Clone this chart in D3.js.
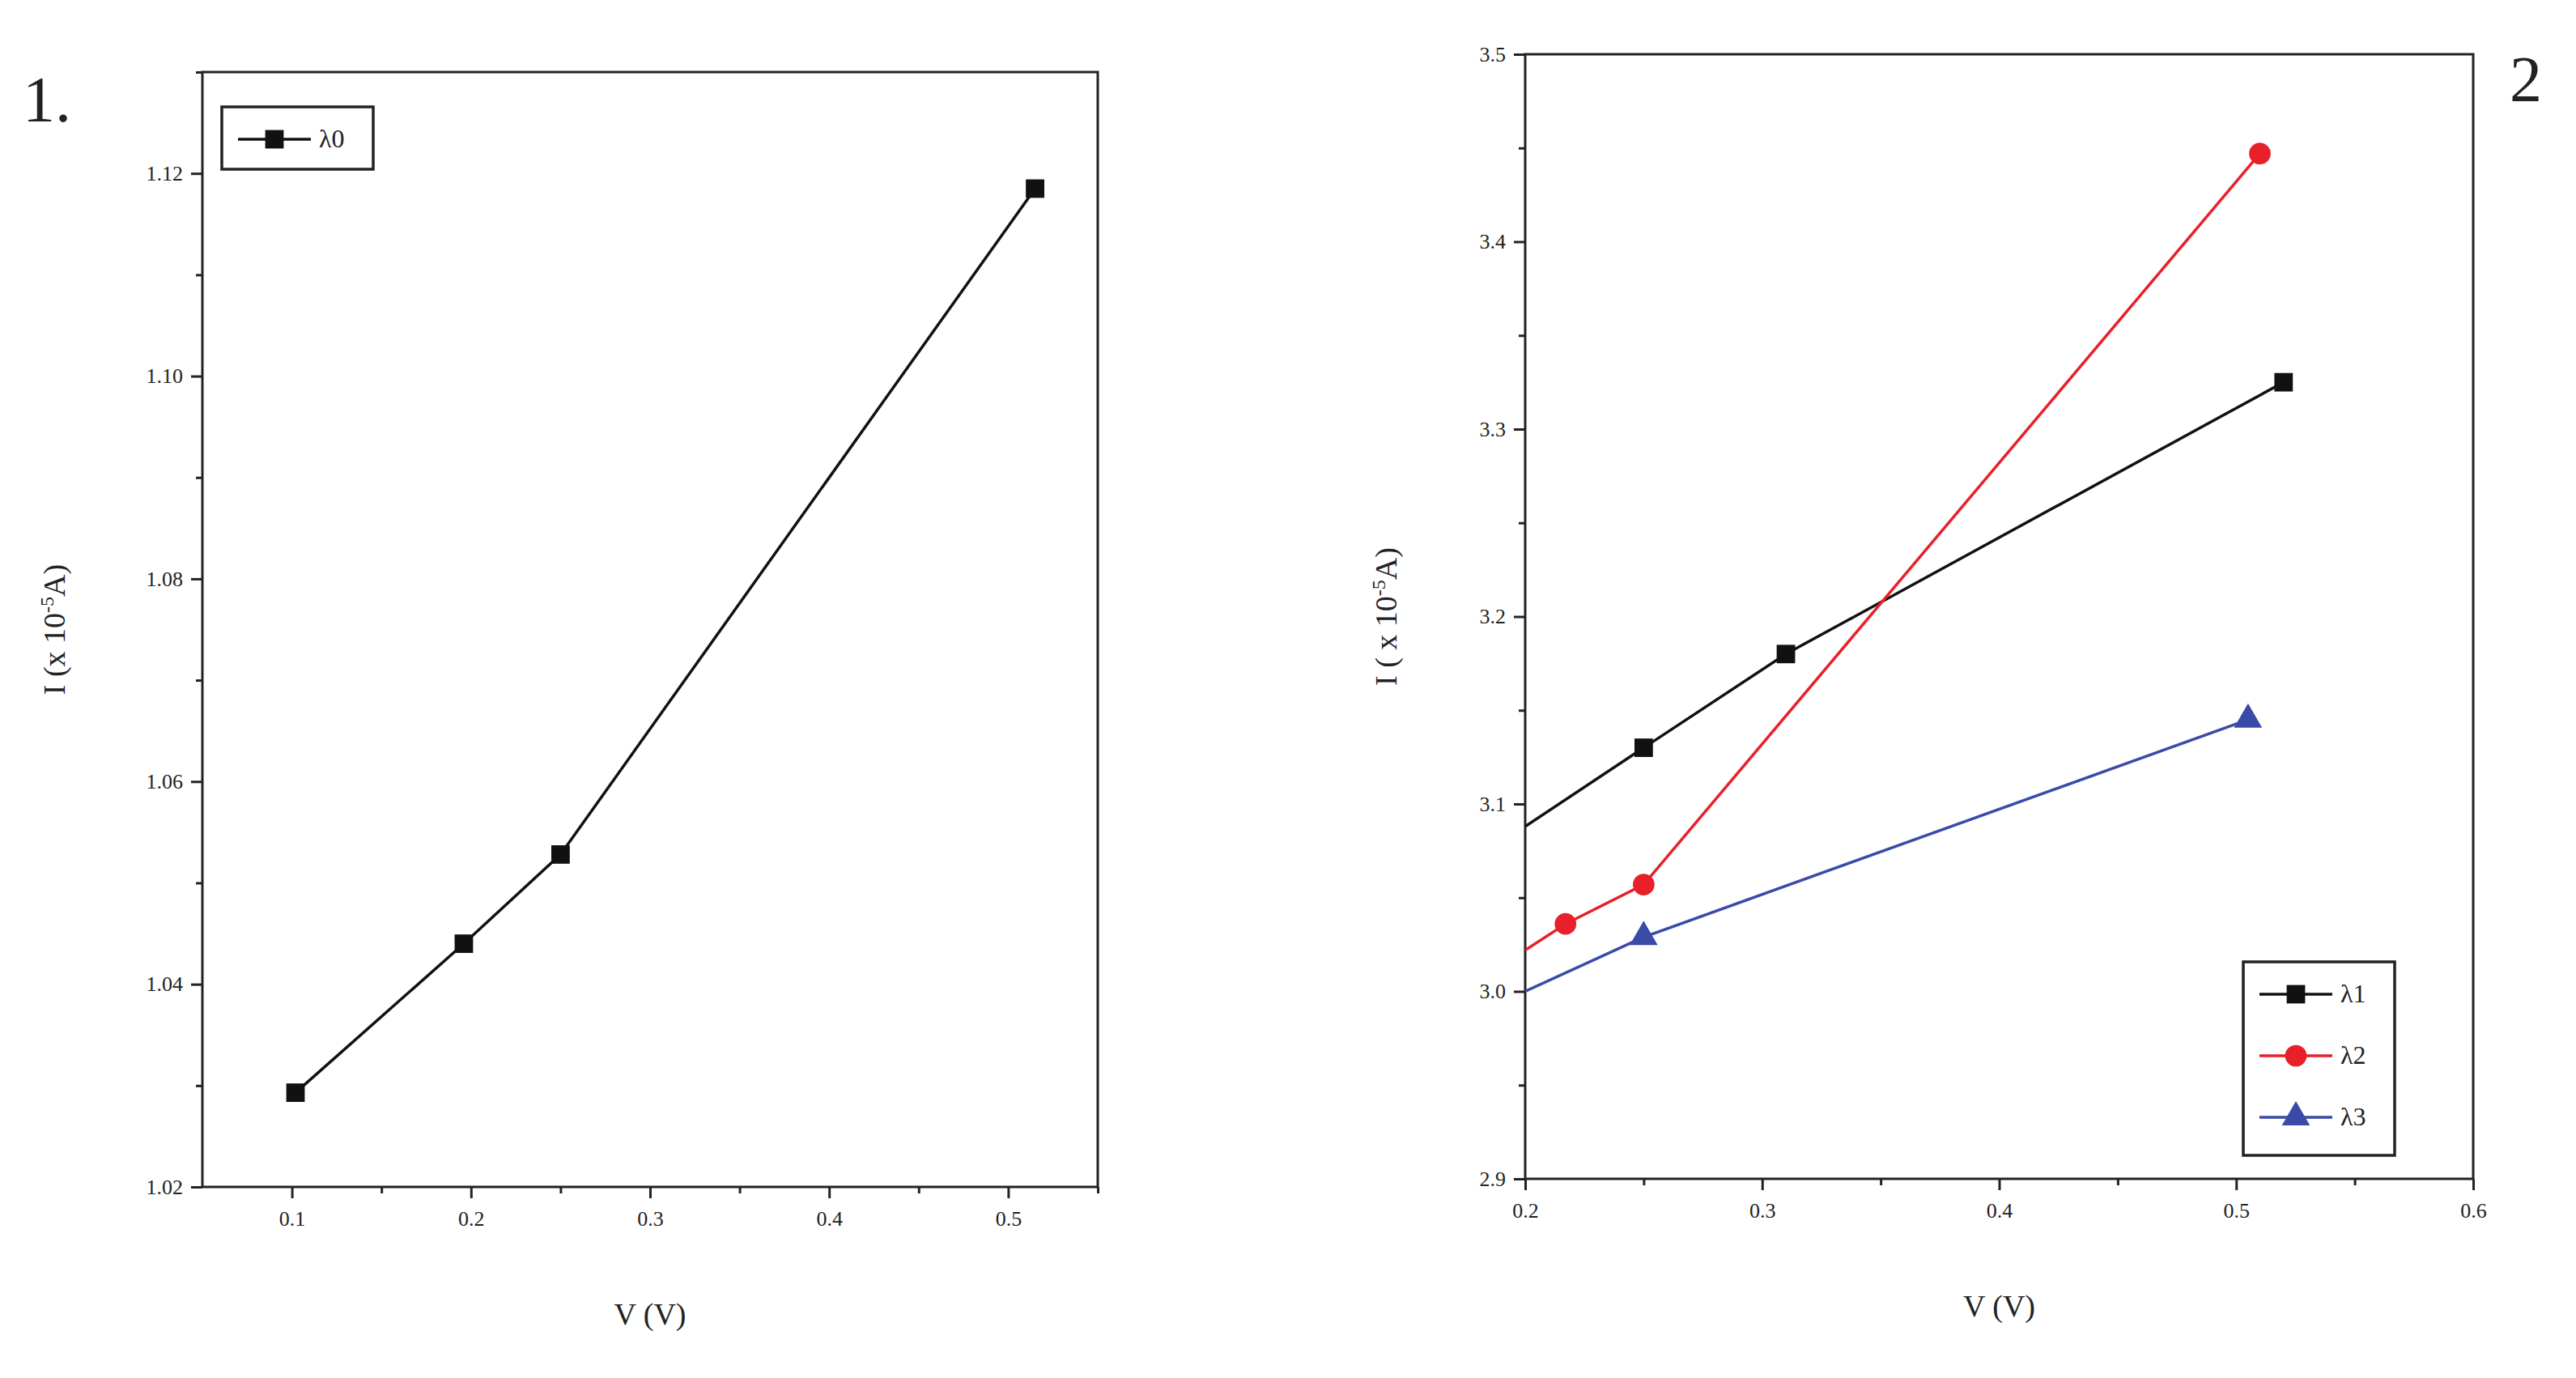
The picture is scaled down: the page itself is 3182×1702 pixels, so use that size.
<!DOCTYPE html>
<html><head><meta charset="utf-8">
<script src="https://cdn.jsdelivr.net/npm/d3@7"></script>
<style>body{margin:0;background:#fff}svg{display:block}text{font-family:"Liberation Serif",serif;fill:#222}</style>
</head><body><svg id="c" width="3182" height="1702"></svg>
<script>
const xTicks1=[0.1,0.2,0.3,0.4,0.5];
const yTicks1=[1.02,1.04,1.06,1.08,1.10,1.12];
const s0X=[0.102,0.196,0.25,0.515];
const s0Y=[1.0293,1.044,1.0528,1.1185];
const xTicks2=[0.2,0.3,0.4,0.5,0.6];
const yTicks2=[2.9,3.0,3.1,3.2,3.3,3.4,3.5];
const s1X=[0.2,0.25,0.31,0.52], s1Y=[3.088,3.13,3.18,3.325], s1M=[0,1,1,1];
const s2X=[0.2,0.217,0.25,0.51], s2Y=[3.022,3.036,3.057,3.447], s2M=[0,1,1,1];
const s3X=[0.2,0.25,0.505], s3Y=[3.0,3.029,3.145], s3M=[0,1,1];
const svg=d3.select("#c");

function panel(o){
  const g=svg.append("g");
  const x=d3.scaleLinear().domain(o.xd).range([o.l,o.r]);
  const y=d3.scaleLinear().domain(o.yd).range([o.b,o.t]);
  const id="clip"+o.l;
  svg.append("clipPath").attr("id",id).append("rect").attr("x",o.l).attr("y",o.t).attr("width",o.r-o.l).attr("height",o.b-o.t);
  g.append("rect").attr("x",o.l).attr("y",o.t).attr("width",o.r-o.l).attr("height",o.b-o.t).attr("fill","none").attr("stroke","#222").attr("stroke-width",3);
  const xa=g.append("g").attr("transform",`translate(0,${o.b})`).call(d3.axisBottom(x).tickValues(o.xt).tickFormat(o.xf).tickSize(14).tickPadding(16));
  const xm=g.append("g").attr("transform",`translate(0,${o.b})`).call(d3.axisBottom(x).tickValues(o.xmin).tickFormat("").tickSize(8));
  const ya=g.append("g").attr("transform",`translate(${o.l},0)`).call(d3.axisLeft(y).tickValues(o.yt).tickFormat(o.yf).tickSize(14).tickPadding(10));
  const ym=g.append("g").attr("transform",`translate(${o.l},0)`).call(d3.axisLeft(y).tickValues(o.ymin).tickFormat("").tickSize(8));
  [xa,xm,ya,ym].forEach(a=>{a.select(".domain").remove();a.selectAll("line").attr("stroke","#222").attr("stroke-width",3);a.selectAll("text").attr("font-size",26).attr("fill","#333");});
  const pg=g.append("g").attr("clip-path",`url(#${id})`);
  o.series.forEach(s=>{
    const pts=s.X.map((v,i)=>[v,s.Y[i],s.M?s.M[i]:1]);
    pg.append("path").datum(pts).attr("fill","none").attr("stroke",s.c).attr("stroke-width",3.5)
      .attr("d",d3.line().x(d=>x(d[0])).y(d=>y(d[1])));
    pg.selectAll(null).data(pts.filter(d=>d[2])).join("path").attr("fill",s.c)
      .attr("transform",d=>`translate(${x(d[0])},${y(d[1])})`).attr("d",d3.symbol().type(s.sym).size(s.sz));
  });
  g.append("text").attr("x",(o.l+o.r)/2).attr("y",o.b+170).attr("text-anchor","middle").attr("font-size",38).text("V (V)");
  const yl=g.append("text").attr("transform",`translate(${o.yl},${(o.t+o.b)/2}) rotate(-90)`).attr("text-anchor","middle").attr("font-size",38);
  yl.append("tspan").text(o.ylab);yl.append("tspan").attr("font-size",24).attr("dy",-14).text("-5");yl.append("tspan").attr("dy",14).text("A)");
  const L=o.leg;
  g.append("rect").attr("x",L.x).attr("y",L.y).attr("width",L.w).attr("height",L.h).attr("fill","#fff").attr("stroke","#222").attr("stroke-width",3.5);
  o.series.forEach((s,i)=>{
    const yy=L.y+40+i*76;
    g.append("line").attr("x1",L.x+20).attr("x2",L.x+110).attr("y1",yy).attr("y2",yy).attr("stroke",s.c).attr("stroke-width",3.5);
    g.append("path").attr("fill",s.c).attr("transform",`translate(${L.x+65},${yy})`).attr("d",d3.symbol().type(s.sym).size(s.sz));
    g.append("text").attr("x",L.x+120).attr("y",yy+10).attr("font-size",32).text(s.name);
  });
}
const f2=d3.format(".2f"), f1=d3.format(".1f");
panel({l:250,r:1356,t:89,b:1466,xd:[0.05,0.55],yd:[1.02,1.13],xt:xTicks1,yt:yTicks1,
  xmin:[0.15,0.25,0.35,0.45,0.55],ymin:[1.03,1.05,1.07,1.09,1.11,1.13],xf:f1,yf:f2,yl:80,ylab:"I (x 10",
  leg:{x:274,y:132,w:187,h:77},
  series:[{name:"λ0",X:s0X,Y:s0Y,c:"#111",sym:d3.symbolSquare,sz:520}]});
panel({l:1884,r:3055,t:67,b:1456,xd:[0.2,0.6],yd:[2.9,3.5],xt:xTicks2,yt:yTicks2,
  xmin:[0.25,0.35,0.45,0.55],ymin:[2.95,3.05,3.15,3.25,3.35,3.45],xf:f1,yf:f1,yl:1725,ylab:"I ( x 10",
  leg:{x:2771,y:1188,w:187,h:239},
  series:[{name:"λ1",X:s1X,Y:s1Y,M:s1M,c:"#111",sym:d3.symbolSquare,sz:520},
          {name:"λ2",X:s2X,Y:s2Y,M:s2M,c:"#e8202a",sym:d3.symbolCircle,sz:560},
          {name:"λ3",X:s3X,Y:s3Y,M:s3M,c:"#3a4aa8",sym:d3.symbolTriangle,sz:520}]});
svg.append("text").attr("x",28).attr("y",150).attr("font-size",80).text("1.");
svg.append("text").attr("x",3100).attr("y",125).attr("font-size",80).text("2");
</script></body></html>
